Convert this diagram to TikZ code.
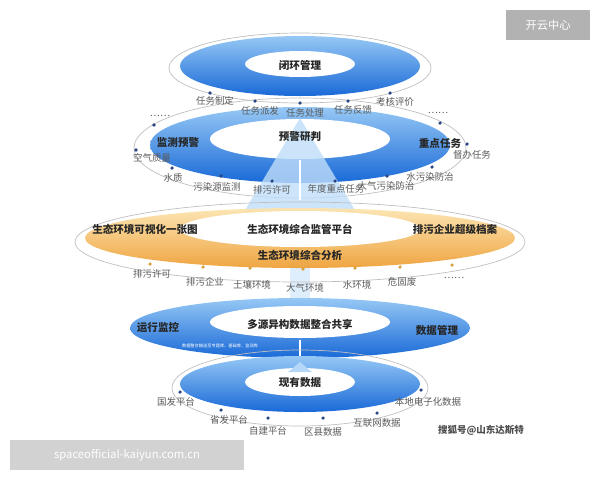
\documentclass[tikz,border=0pt]{standalone}
\usepackage{fontspec}
\setmainfont{Noto Sans CJK SC}
\usepackage{xcolor}
\usetikzlibrary{shapes.geometric, positioning, calc}
\definecolor{ringtop}{RGB}{150,200,245}
\definecolor{ringbot}{RGB}{25,105,215}
\definecolor{orngtop}{RGB}{252,228,175}
\definecolor{orngbot}{RGB}{238,160,55}
\definecolor{dotblue}{RGB}{40,70,130}
\definecolor{dotorng}{RGB}{215,160,60}
\definecolor{labgrey}{RGB}{90,90,90}
\begin{document}
\begin{tikzpicture}[
    x=0.5mm, y=-0.5mm,
    bluering/.style = {ellipse, top color=ringtop, bottom color=ringbot, draw=none, inner sep=0pt},
    orngring/.style = {ellipse, top color=orngtop, bottom color=orngbot, draw=none, inner sep=0pt},
    hole/.style = {ellipse, fill=white, inner sep=0pt},
    orbit/.style = {ellipse, draw=gray!50, line width=1pt, inner sep=0pt},
    title/.style = {font=\bfseries\fontsize{15}{17}\selectfont, text=black!85},
    label/.style = {font=\fontsize{13.5}{15}\selectfont, text=labgrey},
    dot/.style = {circle, fill=dotblue, inner sep=0pt, minimum size=5pt},
    odot/.style = {circle, fill=dotorng, inner sep=0pt, minimum size=5pt}
]
    \useasboundingbox (0,0) rectangle (600,480);
    % rings (sizes in mm = px/2)
    \node[orbit, minimum width=131mm, minimum height=35mm] (loopo) at (300,68) {};
    \node[bluering, minimum width=120mm, minimum height=30mm] (loop) at (300,66) {};
    \node[hole, minimum width=55mm, minimum height=13mm] (loopi) at (300,64) {};
    \node[orbit, minimum width=166mm, minimum height=50mm] (warno) at (300,148) {};
    \node[bluering, minimum width=150mm, minimum height=38mm] (warn) at (300,145) {};
    \node[hole, minimum width=90mm, minimum height=20mm] (warni) at (300,139) {};
    % beam
    \fill[ringtop!60, opacity=0.8] (300,118) -- (232,232) -- (368,232) -- cycle;
    \fill[ringtop!50, opacity=0.6] (290,232) rectangle (310,392);
    \draw[white, line width=1.5pt] (300,160) -- (300,200);
    \node[orbit, minimum width=225mm, minimum height=40mm] (platfo) at (300,242) {};
    \node[orngring, minimum width=215mm, minimum height=30mm, opacity=0.95] (platf) at (300,238) {};
    \node[hole, minimum width=120mm, minimum height=18mm] (platfi) at (300,229) {};
    \node[bluering, minimum width=170mm, minimum height=30mm] (share) at (300,328) {};
    \node[hole, minimum width=90mm, minimum height=16mm] (sharei) at (300,322) {};
    \draw[white, line width=1.5pt] (300,340) -- (300,362);
    \node[orbit, minimum width=128mm, minimum height=38mm] (datao) at (300,388) {};
    \node[bluering, minimum width=120mm, minimum height=28mm] (data) at (300,384) {};
    \node[hole, minimum width=55mm, minimum height=14mm] (datai) at (300,382) {};
    \fill[ringtop!70] (288,372) -- (300,362) -- (312,372) -- cycle;
    % titles
    \node[title] (t1) at (300,65) {闭环管理};
    \node[title] (t2) at (300,137) {预警研判};
    \node[title] (t2l) at (178,143) {监测预警};
    \node[title] (t2r) at (440,143) {重点任务};
    \node[title] (t3) at (300,229) {生态环境综合监管平台};
    \node[title] (t3l) at (145,229) {生态环境可视化一张图};
    \node[title] (t3r) at (455,229) {排污企业超级档案};
    \node[title] (t3b) at (300,255) {生态环境综合分析};
    \node[title] (t4) at (300,324) {多源异构数据整合共享};
    \node[title] (t4l) at (158,328) {运行监控};
    \node[title] (t4r) at (437,330) {数据管理};
    \node[font=\fontsize{6}{7}\selectfont, text=white] (t4s) at (220,346) {数据整合输送至专题库、基础库、监测库};
    \node[title] (t5) at (300,383) {现有数据};
    % loop dots
    \foreach \x/\y/\t/\ly [count=\i] in {210/93/任务制定/101, 255/101/任务派发/111, 300/103/任务处理/113, 348/101/任务反馈/110, 390/93/考核评价/102}
        {\node[dot] (ld\i) at (\x,\y) {};
         \node[label] (ll\i) at (\x+5,\ly) {\t};}
    % warning dots
    \foreach \x/\y/\lx/\ly/\t [count=\i] in {136/150/152/158/空气质量, 172/168/173/178/水质, 221/176/217/187/污染源监测, 272/181/272/190/排污许可, 335/181/336/189/年度重点任务, 387/176/386/186/大气污染防治, 432/167/430/177/水污染防治, 467/144/472/155/督办任务}
        {\node[dot] (wd\i) at (\x,\y) {};
         \node[label] (wl\i) at (\lx,\ly) {\t};}
    \node[dot] (wd9) at (154,125) {};
    \node[dot] (wd10) at (440,123) {};
    \node[label] (wm1) at (160,116) {……};
    \node[label] (wm2) at (438,113) {……};
    % platform dots
    \foreach \x/\y/\ly/\t [count=\i] in {150/264/274/排污许可, 203/267/282/排污企业, 250/268/285/土壤环境, 303/269/288/大气环境, 355/268/285/水环境, 400/267/282/危固废, 452/265/278/……}
        {\node[odot] (pd\i) at (\x,\y) {};
         \node[label] (pl\i) at (\x+2,\ly) {\t};}
    % data dots
    \foreach \x/\y/\lx/\ly/\t [count=\i] in {180/392/176/402/国发平台, 221/410/229/420/省发平台, 268/418/268/431/自建平台, 323/418/323/432/区县数据, 377/413/377/423/互联网数据, 421/390/428/402/本地电子化数据}
        {\node[dot] (dd\i) at (\x,\y) {};
         \node[label] (dl\i) at (\lx,\ly) {\t};}
    % marks
    \node[font=\bfseries\fontsize{13.5}{15}\selectfont, text=black!70] (mark) at (481,430) {搜狐号@山东达斯特};
    \node[fill=gray!60, text=white, minimum width=42mm, minimum height=15mm, font=\fontsize{16}{18}\selectfont] (tag) at (548,25) {开云中心};
    \node[fill=gray!35, text=white, minimum width=117mm, minimum height=15mm, font=\fontsize{16}{18}\selectfont] (url) at (127,455) {spaceofficial-kaiyun.com.cn};
\end{tikzpicture}
\end{document}
